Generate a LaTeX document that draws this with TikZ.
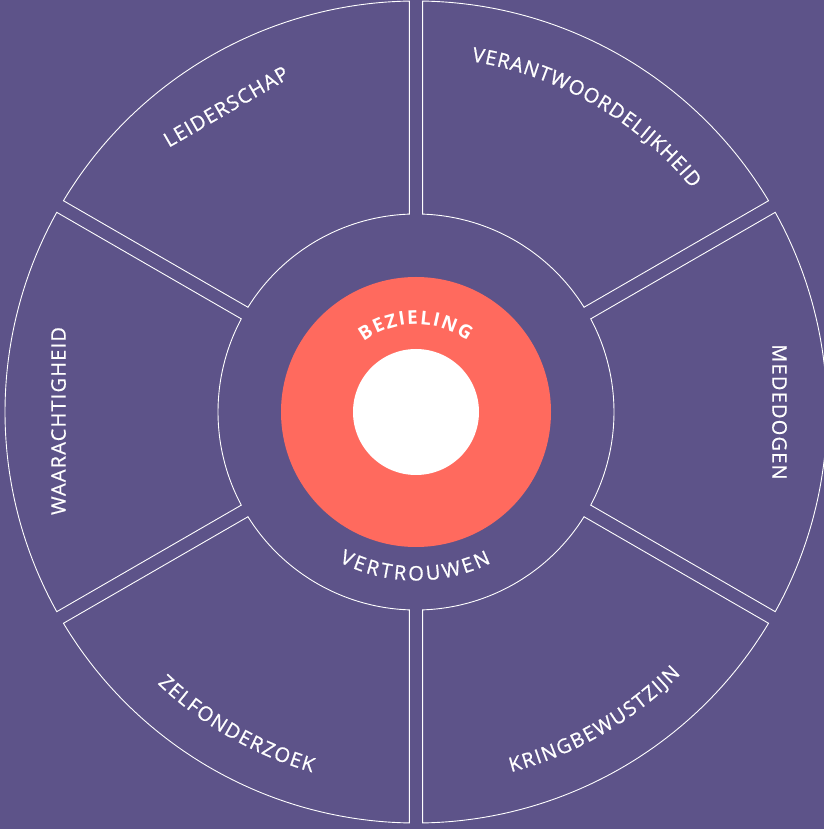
\documentclass[tikz,border=0pt]{standalone}
\usepackage{fontspec}
\setmainfont{Open Sans}
\newfontfamily\labelfont[LetterSpace=6, FakeBold=0.7]{Open Sans}
\newfontfamily\arcfont[FakeBold=0.7]{Open Sans}
\newfontfamily\boldarcfont{Open Sans}
\usetikzlibrary{decorations.text}

\definecolor{wheelbg}{HTML}{5D5389}
\definecolor{coral}{HTML}{FF6A5E}

\begin{document}
\begin{tikzpicture}[
		x=1pt, y=1pt,
		% Outline of one ring segment
		segline/.style={draw=white, line width=0.9pt},
		% Straight labels in the outer ring
		seglabel/.style={text=white, inner sep=0pt,
				font=\labelfont\fontsize{20}{24}\selectfont},
		% Labels bent along a circle
		arclabel/.style={decorate, decoration={text along path,
						text align=fit to path, text color=white, text={#1}}},
		% Filled discs in the middle
		disc/.style={circle, fill=#1, inner sep=0pt}
	]

	% ==========================================
	% 1. BACKGROUND
	% ==========================================
	\fill[wheelbg] (-416,-417) rectangle (408,412);
	\useasboundingbox (-416,-417) rectangle (408,412);

	% ==========================================
	% 2. OUTER RING (six segments, parallel gaps)
	% ==========================================
	\def\Rout{411}
	\def\Rin{198}
	\def\gap{6.7}
	\pgfmathsetmacro\ao{asin(\gap/\Rout)}
	\pgfmathsetmacro\ai{asin(\gap/\Rin)}

	\foreach \c in {120, 60, 0, -60, -120, 180} {
			\pgfmathsetmacro\ostart{\c+30-\ao}
			\pgfmathsetmacro\oend{\c-30+\ao}
			\pgfmathsetmacro\istart{\c-30+\ai}
			\pgfmathsetmacro\iend{\c+30-\ai}
			\draw[segline] (\ostart:\Rout) arc[start angle=\ostart, end angle=\oend, radius=\Rout]
			-- (\istart:\Rin) arc[start angle=\istart, end angle=\iend, radius=\Rin] -- cycle;
		}

	% ==========================================
	% 3. CENTRE DISCS
	% ==========================================
	\node[disc=coral, minimum size=270] (core) at (0,0) {};
	\node[disc=white, minimum size=126] (hub) at (core.center) {};

	% ==========================================
	% 4. SEGMENT LABELS
	% ==========================================
	% Straight ones
	\node[seglabel, rotate=30] (leiderschap) at (-190,305.5) {LEIDERSCHAP};
	\node[seglabel, rotate=-90] (mededogen) at (363.5,0) {MEDEDOGEN};
	\node[seglabel, rotate=90] (waarachtigheid) at (-357.5,-9) {WAARACHTIGHEID};

	% Bent ones (top reads clockwise, bottom counter-clockwise)
	\path[arclabel={|\arcfont\fontsize{20}{24}\selectfont|VERANTWOORDELIJKHEID}]
	(81:355) arc[start angle=81, end angle=39, radius=355];
	\path[arclabel={|\arcfont\fontsize{20}{24}\selectfont|KRINGBEWUSTZIJN}]
	(-75.2:372.5) arc[start angle=-75.2, end angle=-44.7, radius=372.5];
	\path[arclabel={|\arcfont\fontsize{20}{24}\selectfont|ZELFONDERZOEK}]
	(-133.6:375) arc[start angle=-133.6, end angle=-106.1, radius=375];

	% ==========================================
	% 5. INNER RING LABELS
	% ==========================================
	\path[arclabel={|\boldarcfont\bfseries\fontsize{19}{23}\selectfont|BEZIELING}]
	(126.6:87.5) arc[start angle=126.6, end angle=54, radius=87.5];
	\path[arclabel={|\arcfont\fontsize{20}{24}\selectfont|VERTROUWEN}]
	(-117.2:168.5) arc[start angle=-117.2, end angle=-63.5, radius=168.5];

\end{tikzpicture}
\end{document}
